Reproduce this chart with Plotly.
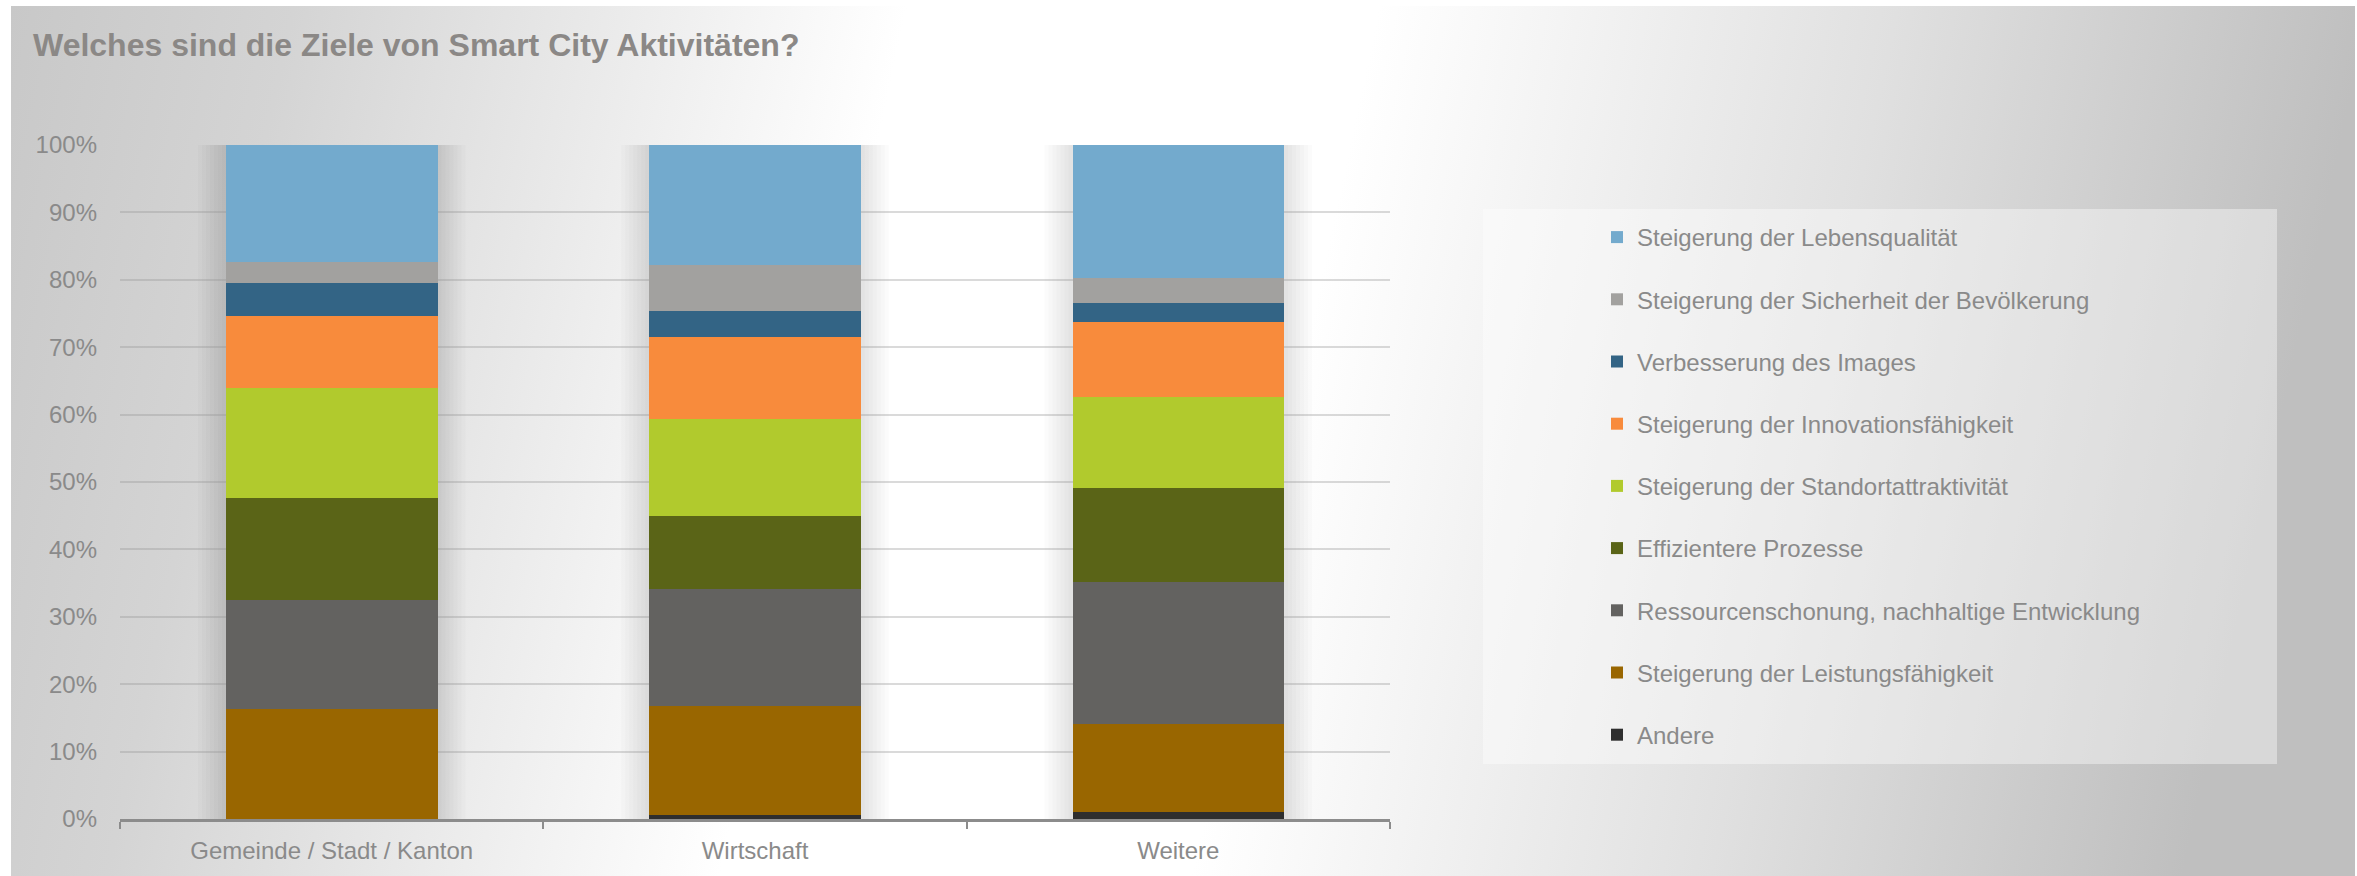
import base64
import plotly.graph_objects as go

# ---------------- data ----------------
categories = ["Gemeinde / Stadt / Kanton", "Wirtschaft", "Weitere"]

# series listed bottom -> top of the stack
series_names = [
    "Andere",
    "Steigerung der Leistungsfähigkeit",
    "Ressourcenschonung, nachhaltige Entwicklung",
    "Effizientere Prozesse",
    "Steigerung der Standortattraktivität",
    "Steigerung der Innovationsfähigkeit",
    "Verbesserung des Images",
    "Steigerung der Sicherheit der Bevölkerung",
    "Steigerung der Lebensqualität",
]
andere = [0.0, 0.6, 1.0]
leistung = [16.3, 16.1, 13.1]
ressourcen = [16.2, 17.4, 21.0]
effizient = [15.2, 10.9, 14.0]
standort = [16.2, 14.4, 13.5]
innovation = [10.7, 12.1, 11.2]
image = [5.0, 3.8, 2.8]
sicherheit = [3.1, 6.9, 3.7]
lebensqualitaet = [17.3, 17.8, 19.7]
series_values = [andere, leistung, ressourcen, effizient, standort,
                 innovation, image, sicherheit, lebensqualitaet]

series_colors = ["#2e2e2e", "#996600", "#636260", "#5a6417", "#b1ca2d",
                 "#f88b3c", "#336485", "#a2a19f", "#73aacd"]

title_text = "Welches sind die Ziele von Smart City Aktivitäten?"

# ---------------- layout geometry ----------------
W, H = 2357, 876
ML, MR, MT, MB = 120, W - 1390, 145, H - 819
PW, PH = W - ML - MR, H - MT - MB
FONT = "Liberation Sans, Arial, sans-serif"
TXT = "#8a8a8a"


def px_x(p):
    return (p - ML) / PW


def px_y(p):
    return (H - MB - p) / PH


fig = go.Figure()
n_series = len(series_names)
for idx, (name, vals, col) in enumerate(zip(series_names, series_values, series_colors)):
    total = [sum(v[i] for v in series_values) for i in range(len(categories))]
    fig.add_trace(go.Bar(
        x=categories,
        y=[v / t for v, t in zip(vals, total)],
        name=name,
        legendgroup=name,
        legendrank=100 + (n_series - idx),
        marker=dict(color=col, line=dict(width=0)),
    ))

# background gradient (decorative)
svg = (
    '<svg xmlns="http://www.w3.org/2000/svg" width="2344" height="870" '
    'preserveAspectRatio="none" viewBox="0 0 2344 870">'
    '<defs><linearGradient id="g" x1="0" y1="0" x2="1" y2="0.08">'
    '<stop offset="0" stop-color="#c8c8c8"/>'
    '<stop offset="0.12" stop-color="#d4d4d4"/>'
    '<stop offset="0.38" stop-color="#ffffff"/>'
    '<stop offset="0.58" stop-color="#ffffff"/>'
    '<stop offset="0.80" stop-color="#e0e0e0"/>'
    '<stop offset="1" stop-color="#bfbfbf"/>'
    '</linearGradient></defs>'
    '<rect x="0" y="0" width="2344" height="870" fill="url(#g)"/></svg>'
)
src = "data:image/svg+xml;base64," + base64.b64encode(svg.encode()).decode()
fig.add_layout_image(dict(
    source=src, xref="paper", yref="paper",
    x=px_x(11), y=px_y(6), sizex=(2355 - 11) / PW, sizey=(876 - 6) / PH,
    xanchor="left", yanchor="top", sizing="stretch", layer="below",
))

# legend panel
fig.add_shape(type="rect", xref="paper", yref="paper",
              x0=px_x(1483), x1=px_x(2277), y0=px_y(764), y1=px_y(209),
              fillcolor="rgba(255,255,255,0.4)", line=dict(width=0), layer="below")

# soft bar shadows
bargap = 0.5
half = (1 - bargap) / 2
cat_px = PW / len(categories)
for i in range(len(categories)):
    for k in range(1, 8):
        d = k * 4 / cat_px
        fig.add_shape(type="rect", xref="x", yref="y",
                      x0=i - half - d, x1=i + half + d, y0=0, y1=1.0,
                      fillcolor="rgba(0,0,0,0.016)", line=dict(width=0), layer="below")

fig.update_layout(
    width=W, height=H,
    margin=dict(l=ML, r=MR, t=MT, b=MB, pad=0),
    paper_bgcolor="#ffffff",
    plot_bgcolor="rgba(0,0,0,0)",
    barmode="stack",
    bargap=bargap,
    font=dict(family=FONT, size=24, color=TXT),
    title=dict(
        text="<b>" + title_text + "</b>",
        x=33 / W, xanchor="left", xref="container",
        y=1 - 45 / H, yanchor="middle", yref="container",
        font=dict(family=FONT, size=32, color="#8b8886"),
    ),
    legend=dict(
        x=px_x(1597), xanchor="left",
        y=px_y(215), yanchor="top",
        bgcolor="rgba(0,0,0,0)",
        traceorder="grouped",
        tracegroupgap=28,
        font=dict(family=FONT, size=24, color=TXT),
    ),
    xaxis=dict(
        type="category",
        showgrid=False,
        showline=True, linecolor="#8c8c8c", linewidth=3,
        ticks="outside", tickson="boundaries", ticklen=7, tickwidth=2,
        tickcolor="#8c8c8c",
        tickfont=dict(family=FONT, size=24, color=TXT),
        ticklabelstandoff=8,
    ),
    yaxis=dict(
        range=[0, 1], dtick=0.1, tickformat=".0%",
        showgrid=True, gridcolor="rgba(150,150,150,0.35)", gridwidth=2,
        zeroline=False, showline=False, ticks="",
        tickfont=dict(family=FONT, size=24, color=TXT),
        ticklabelstandoff=22,
    ),
)

fig.write_html("out.html")
